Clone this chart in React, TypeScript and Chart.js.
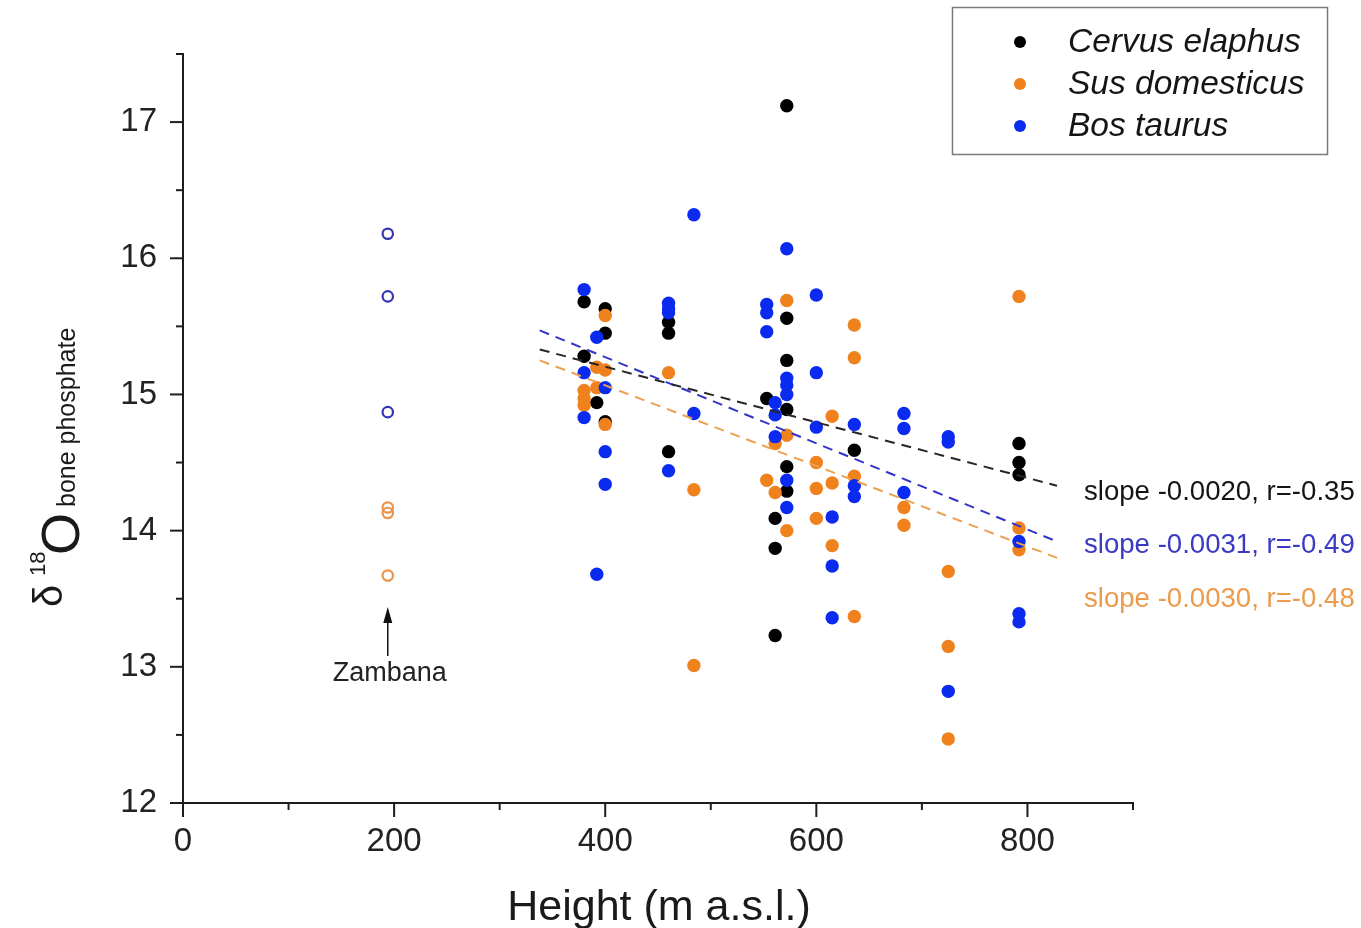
import React, { useEffect, useRef } from 'react';
import { Chart, registerables } from 'chart.js';

Chart.register(...registerables);

const FONT = '"Liberation Sans", Arial, Helvetica, sans-serif';

// Cervus elaphus
const cervusHeight = [380, 380, 392, 400, 400, 400, 460, 460, 460, 553, 561, 561, 561, 572, 572, 572, 572, 572, 572, 636, 792, 792, 792];
const cervusD18O = [15.68, 15.28, 14.94, 15.63, 15.45, 14.8, 15.53, 15.45, 14.58, 14.97, 14.09, 13.87, 13.23, 17.12, 15.56, 15.25, 14.89, 14.47, 14.29, 14.59, 14.64, 14.5, 14.41];

// Sus domesticus
const susHeight = [380, 380, 380, 392, 392, 400, 400, 400, 460, 484, 484, 553, 561, 561, 572, 572, 572, 600, 600, 600, 615, 615, 615, 636, 636, 636, 636, 683, 683, 725, 725, 725, 792, 792, 792];
const susD18O = [15.03, 14.97, 14.92, 15.2, 15.05, 15.58, 15.18, 14.78, 15.16, 14.3, 13.01, 14.37, 14.64, 14.28, 15.69, 14.7, 14.0, 14.5, 14.31, 14.09, 14.84, 14.35, 13.89, 15.51, 15.27, 14.4, 13.37, 14.17, 14.04, 13.7, 13.15, 12.47, 15.72, 14.02, 13.86];

// Bos taurus
const bosHeight = [380, 380, 380, 392, 392, 400, 400, 400, 460, 460, 460, 460, 484, 484, 553, 553, 553, 561, 561, 561, 572, 572, 572, 572, 572, 572, 600, 600, 600, 615, 615, 615, 636, 636, 636, 683, 683, 683, 725, 725, 725, 792, 792, 792];
const bosD18O = [15.77, 15.16, 14.83, 15.42, 13.68, 15.05, 14.58, 14.34, 15.67, 15.63, 15.6, 14.44, 16.32, 14.86, 15.66, 15.6, 15.46, 14.94, 14.85, 14.69, 16.07, 15.12, 15.07, 15.0, 14.37, 14.17, 15.73, 15.16, 14.76, 14.1, 13.74, 13.36, 14.78, 14.33, 14.25, 14.86, 14.75, 14.28, 14.69, 14.65, 12.82, 13.92, 13.39, 13.33];

// Zambana (open symbols)
const zambanaBosHeight = [194, 194, 194];
const zambanaBosD18O = [16.18, 15.72, 14.87];
const zambanaSusHeight = [194, 194, 194];
const zambanaSusD18O = [14.17, 14.13, 13.67];

// Regression lines
const trendHeight = [338, 828];
const cervusTrend = [15.33, 14.33];
const bosTrend = [15.47, 13.92];
const susTrend = [15.25, 13.8];

const seriesNames = ['Cervus elaphus', 'Sus domesticus', 'Bos taurus'];
const slopeLabels = ['slope -0.0020, r=-0.35', 'slope -0.0031, r=-0.49', 'slope -0.0030, r=-0.48'];

const xMajorTicks = [0, 200, 400, 600, 800];
const xMinorTicks = [100, 300, 500, 700, 900];
const yMajorTicks = [12, 13, 14, 15, 16, 17];
const yMinorTicks = [12.5, 13.5, 14.5, 15.5, 16.5, 17.5];

const BLACK = '#000000';
const ORANGE = '#f0821e';
const BLUE = '#0a2af0';
const BLUE_OPEN = '#3434b4';
const ORANGE_OPEN = '#e8944a';
const AXIS = '#1e1e1e';

const zip = (xs: number[], ys: number[]) => xs.map((x, i) => ({ x, y: ys[i] }));

const decorPlugin = {
  id: 'decor',
  afterDraw(chart: any) {
    const ctx = chart.ctx as CanvasRenderingContext2D;
    const xs = chart.scales.x;
    const ys = chart.scales.y;
    const left = chart.chartArea.left;
    const bottom = chart.chartArea.bottom;
    ctx.save();
    ctx.strokeStyle = AXIS;
    ctx.lineWidth = 2;
    ctx.lineCap = 'butt';
    const seg = (x1: number, y1: number, x2: number, y2: number) => {
      ctx.beginPath();
      ctx.moveTo(x1, y1);
      ctx.lineTo(x2, y2);
      ctx.stroke();
    };
    // axes
    seg(left, bottom + 1, left, ys.getPixelForValue(17.5) - 1);
    seg(left - 1, bottom, xs.getPixelForValue(900) + 1, bottom);
    yMajorTicks.forEach((v) => { const p = ys.getPixelForValue(v); seg(left - 13, p, left, p); });
    yMinorTicks.forEach((v) => { const p = ys.getPixelForValue(v); seg(left - 7, p, left, p); });
    xMajorTicks.forEach((v) => { const p = xs.getPixelForValue(v); seg(p, bottom, p, bottom + 14); });
    xMinorTicks.forEach((v) => { const p = xs.getPixelForValue(v); seg(p, bottom, p, bottom + 7); });

    // x title
    ctx.fillStyle = '#1a1a1a';
    ctx.font = `43px ${FONT}`;
    ctx.textAlign = 'center';
    ctx.textBaseline = 'alphabetic';
    ctx.fillText('Height (m a.s.l.)', 659, 920);

    // y title (rotated)
    ctx.save();
    ctx.translate(0, 607);
    ctx.rotate(-Math.PI / 2);
    ctx.textAlign = 'left';
    ctx.font = `40px ${FONT}`;
    ctx.fillText('\u03b4', 0, 62);
    ctx.font = `22px ${FONT}`;
    ctx.fillText('18', 31, 45);
    ctx.font = `54px ${FONT}`;
    ctx.fillText('O', 52, 79);
    ctx.font = `25px ${FONT}`;
    ctx.fillText('bone phosphate', 100, 75);
    ctx.restore();

    // Legend
    ctx.strokeStyle = '#7a7a7a';
    ctx.lineWidth = 1.5;
    ctx.strokeRect(952.5, 7.5, 375, 147);
    const legendColors = [BLACK, ORANGE, BLUE];
    const rowsY = [42, 84, 126];
    ctx.textAlign = 'left';
    ctx.textBaseline = 'middle';
    seriesNames.forEach((name, i) => {
      ctx.fillStyle = legendColors[i];
      ctx.beginPath();
      ctx.arc(1020, rowsY[i], 6, 0, Math.PI * 2);
      ctx.fill();
      ctx.fillStyle = '#151515';
      ctx.font = `italic 33.5px ${FONT}`;
      ctx.fillText(name, 1068, rowsY[i] + 1);
    });

    // slope annotations
    const slopeColors = ['#151515', '#3a3ac4', '#ec9a4c'];
    const slopeY = [492, 545, 599];
    ctx.font = `27.6px ${FONT}`;
    slopeLabels.forEach((t, i) => {
      ctx.fillStyle = slopeColors[i];
      ctx.fillText(t, 1084, slopeY[i]);
    });

    // Zambana arrow + label
    const ax = xs.getPixelForValue(194);
    ctx.strokeStyle = '#111';
    ctx.lineWidth = 1.5;
    seg(ax, 656, ax, 618);
    ctx.fillStyle = '#111';
    ctx.beginPath();
    ctx.moveTo(ax, 607);
    ctx.lineTo(ax - 4.5, 623);
    ctx.lineTo(ax + 4.5, 623);
    ctx.closePath();
    ctx.fill();
    ctx.font = `27px ${FONT}`;
    ctx.textAlign = 'center';
    ctx.fillStyle = '#222';
    ctx.fillText('Zambana', ax + 2, 674);

    ctx.restore();
  },
};

export default function App() {
  const canvasRef = useRef<HTMLCanvasElement | null>(null);

  useEffect(() => {
    if (!canvasRef.current) return;
    const scatter = (label: string, data: any[], color: string, order: number) => ({
      type: 'scatter' as const,
      label,
      data,
      backgroundColor: color,
      borderColor: color,
      borderWidth: 0,
      pointRadius: 6.7,
      pointHoverRadius: 6.7,
      order,
    });
    const openPts = (label: string, data: any[], color: string) => ({
      type: 'scatter' as const,
      label,
      data,
      backgroundColor: 'rgba(255,255,255,0)',
      borderColor: color,
      borderWidth: 2.2,
      pointRadius: 5.2,
      order: 5,
    });
    const trend = (label: string, data: any[], color: string) => ({
      type: 'line' as const,
      label,
      data,
      borderColor: color,
      borderWidth: 2,
      borderDash: [10, 7],
      pointRadius: 0,
      fill: false,
      order: 0,
    });

    const chart = new Chart(canvasRef.current, {
      type: 'scatter',
      data: {
        datasets: [
          trend('Cervus trend', zip(trendHeight, cervusTrend), '#262626'),
          trend('Bos trend', zip(trendHeight, bosTrend), '#3434c8'),
          trend('Sus trend', zip(trendHeight, susTrend), '#eca050'),
          scatter(seriesNames[0], zip(cervusHeight, cervusD18O), BLACK, 3),
          scatter(seriesNames[1], zip(susHeight, susD18O), ORANGE, 2),
          scatter(seriesNames[2], zip(bosHeight, bosD18O), BLUE, 1),
          openPts('Zambana Bos', zip(zambanaBosHeight, zambanaBosD18O), BLUE_OPEN),
          openPts('Zambana Sus', zip(zambanaSusHeight, zambanaSusD18O), ORANGE_OPEN),
        ] as any,
      },
      options: {
        animation: false,
        responsive: false,
        devicePixelRatio: 1,
        layout: { padding: { top: 54, right: 228, left: 0, bottom: 0 } },
        plugins: {
          legend: { display: false },
          tooltip: { enabled: false },
        },
        scales: {
          x: {
            type: 'linear',
            min: 0,
            max: 900,
            grid: { display: false, drawTicks: false },
            border: { display: false },
            ticks: {
              stepSize: 200,
              includeBounds: false,
              padding: 19,
              color: '#222',
              font: { family: FONT, size: 33 },
              maxRotation: 0,
            },
            afterFit: (s: any) => { s.height = 125; },
          },
          y: {
            type: 'linear',
            min: 12,
            max: 17.5,
            grid: { display: false, drawTicks: false },
            border: { display: false },
            ticks: {
              stepSize: 1,
              includeBounds: false,
              padding: 26,
              color: '#222',
              font: { family: FONT, size: 33 },
            },
            afterFit: (s: any) => { s.width = 183; },
          },
        },
      } as any,
      plugins: [decorPlugin],
    });
    return () => chart.destroy();
  }, []);

  return (
    <div style={{ position: 'fixed', left: 0, top: 0, width: 1361, height: 928, background: '#fff' }}>
      <canvas ref={canvasRef} width={1361} height={928} style={{ width: 1361, height: 928, display: 'block' }} />
    </div>
  );
}
